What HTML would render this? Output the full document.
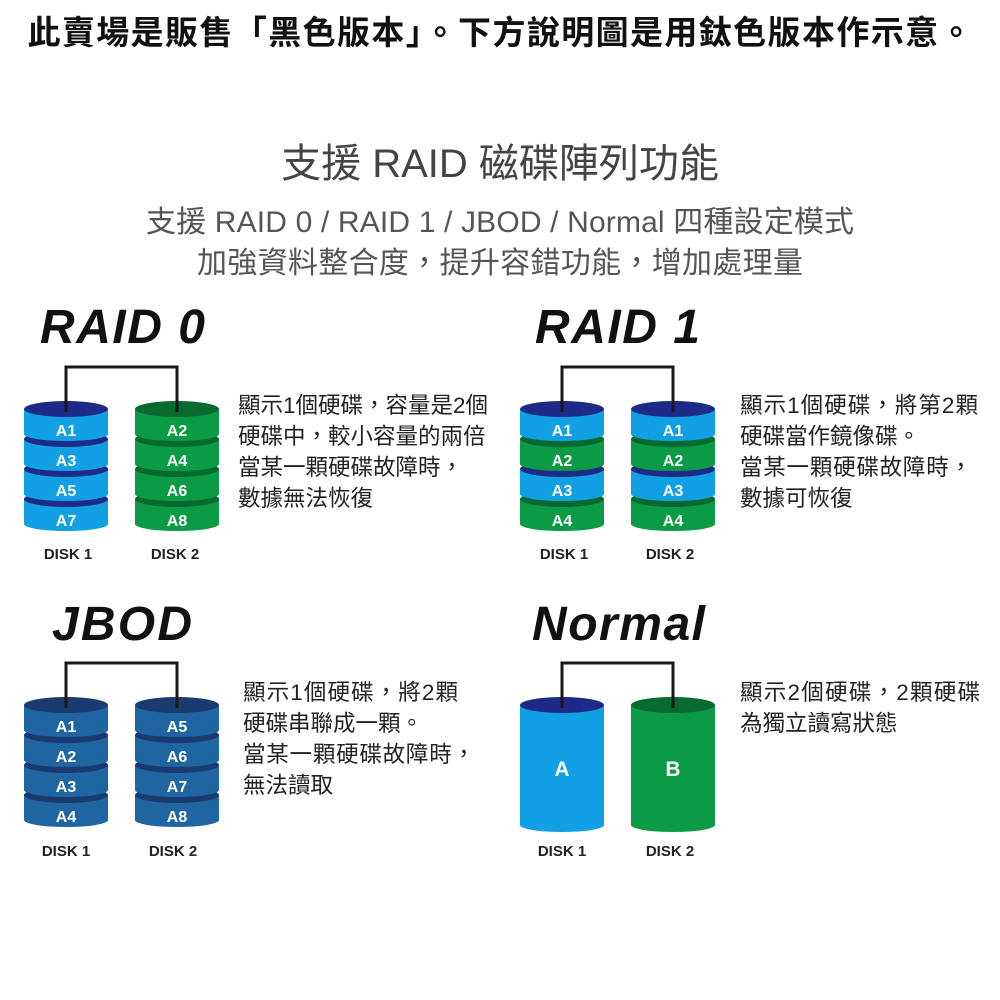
<!DOCTYPE html>
<html><head><meta charset="utf-8"><style>
body{margin:0;background:#fff}
svg{display:block}
.cj{font-family:"Liberation Sans","Noto Sans CJK TC",sans-serif}
</style></head><body>
<svg width="1000" height="1000" viewBox="0 0 1000 1000" xmlns="http://www.w3.org/2000/svg" class="cj">
<defs>
<g id="sb"><rect x="-42" y="0" width="84" height="25" fill="#12a0e4"/><ellipse cx="0" cy="25" rx="42" ry="7" fill="#12a0e4"/><ellipse cx="0" cy="0" rx="42" ry="8" fill="#1d2a88"/></g>
<g id="sg"><rect x="-42" y="0" width="84" height="25" fill="#0b9a45"/><ellipse cx="0" cy="25" rx="42" ry="7" fill="#0b9a45"/><ellipse cx="0" cy="0" rx="42" ry="8" fill="#086a2e"/></g>
<g id="sj"><rect x="-42" y="0" width="84" height="25" fill="#1f65a1"/><ellipse cx="0" cy="25" rx="42" ry="7" fill="#1f65a1"/><ellipse cx="0" cy="0" rx="42" ry="8" fill="#1a3a70"/></g>
</defs>

<text x="500" y="44" text-anchor="middle" font-size="33" font-weight="bold" fill="#111" textLength="945">此賣場是販售「黑色版本」。下方說明圖是用鈦色版本作示意。</text>
<text x="500" y="177" text-anchor="middle" font-size="40" fill="#444">支援 RAID 磁碟陣列功能</text>
<text x="500" y="232" text-anchor="middle" font-size="30" fill="#555" textLength="708">支援 RAID 0 / RAID 1 / JBOD / Normal 四種設定模式</text>
<text x="500" y="273" text-anchor="middle" font-size="30" fill="#555" textLength="606">加強資料整合度，提升容錯功能，增加處理量</text>

<g font-size="48" font-weight="bold" font-style="italic" fill="#111">
<text x="40" y="343" textLength="165">RAID 0</text>
<text x="535" y="343" textLength="165">RAID 1</text>
<text x="52" y="640" textLength="140">JBOD</text>
<text x="532" y="640" textLength="173">Normal</text>
</g>

<g fill="none" stroke="#1a1a1a" stroke-width="3">
<path d="M66 408V367H177V408"/>
<path d="M562 408V367H673V408"/>
<path d="M66 704V663H177V704"/>
<path d="M562 704V663H673V704"/>
</g>

<!-- RAID0 (bottom-up) -->
<use href="#sb" x="66" y="499"/><use href="#sb" x="66" y="469"/><use href="#sb" x="66" y="439"/><use href="#sb" x="66" y="409"/>
<use href="#sg" x="177" y="499"/><use href="#sg" x="177" y="469"/><use href="#sg" x="177" y="439"/><use href="#sg" x="177" y="409"/>
<!-- RAID1 -->
<use href="#sg" x="562" y="499"/><use href="#sb" x="562" y="469"/><use href="#sg" x="562" y="439"/><use href="#sb" x="562" y="409"/>
<use href="#sg" x="673" y="499"/><use href="#sb" x="673" y="469"/><use href="#sg" x="673" y="439"/><use href="#sb" x="673" y="409"/>
<!-- JBOD -->
<use href="#sj" x="66" y="795"/><use href="#sj" x="66" y="765"/><use href="#sj" x="66" y="735"/><use href="#sj" x="66" y="705"/>
<use href="#sj" x="177" y="795"/><use href="#sj" x="177" y="765"/><use href="#sj" x="177" y="735"/><use href="#sj" x="177" y="705"/>
<!-- Normal -->
<rect x="520" y="705" width="84" height="120" fill="#12a0e4"/><ellipse cx="562" cy="825" rx="42" ry="7" fill="#12a0e4"/><ellipse cx="562" cy="705" rx="42" ry="8" fill="#1d2a88"/>
<rect x="631" y="705" width="84" height="120" fill="#0b9a45"/><ellipse cx="673" cy="825" rx="42" ry="7" fill="#0b9a45"/><ellipse cx="673" cy="705" rx="42" ry="8" fill="#086a2e"/>
<g fill="none" stroke="#1a1a1a" stroke-width="3">
<path d="M66 412V400"/><path d="M177 412V400"/><path d="M562 412V400"/><path d="M673 412V400"/>
<path d="M66 708V696"/><path d="M177 708V696"/><path d="M562 708V696"/><path d="M673 708V696"/></g>

<g fill="#fff" font-weight="bold" font-size="16" text-anchor="middle">
<text x="66" y="436">A1</text><text x="66" y="466">A3</text><text x="66" y="496">A5</text><text x="66" y="526">A7</text>
<text x="177" y="436">A2</text><text x="177" y="466">A4</text><text x="177" y="496">A6</text><text x="177" y="526">A8</text>
<text x="562" y="436">A1</text><text x="562" y="466">A2</text><text x="562" y="496">A3</text><text x="562" y="526">A4</text>
<text x="673" y="436">A1</text><text x="673" y="466">A2</text><text x="673" y="496">A3</text><text x="673" y="526">A4</text>
<text x="66" y="732">A1</text><text x="66" y="762">A2</text><text x="66" y="792">A3</text><text x="66" y="822">A4</text>
<text x="177" y="732">A5</text><text x="177" y="762">A6</text><text x="177" y="792">A7</text><text x="177" y="822">A8</text>
<text x="562" y="776" font-size="21">A</text><text x="673" y="776" font-size="21">B</text>
</g>

<g fill="#222" font-weight="bold" font-size="15" text-anchor="middle">
<text x="68" y="559">DISK 1</text><text x="175" y="559">DISK 2</text>
<text x="564" y="559">DISK 1</text><text x="670" y="559">DISK 2</text>
<text x="66" y="856">DISK 1</text><text x="173" y="856">DISK 2</text>
<text x="562" y="856">DISK 1</text><text x="670" y="856">DISK 2</text>
</g>

<g fill="#222" font-size="22.5">
<text x="238" y="413">顯示1個硬碟，容量是2個</text>
<text x="238" y="444">硬碟中，較小容量的兩倍</text>
<text x="238" y="475">當某一顆硬碟故障時，</text>
<text x="238" y="506">數據無法恢復</text>
<text x="740" y="413" textLength="238">顯示1個硬碟，將第2顆</text>
<text x="740" y="444">硬碟當作鏡像碟。</text>
<text x="740" y="475" textLength="232">當某一顆硬碟故障時，</text>
<text x="740" y="506">數據可恢復</text>
<text x="243" y="700" textLength="215">顯示1個硬碟，將2顆</text>
<text x="243" y="731">硬碟串聯成一顆。</text>
<text x="243" y="762" textLength="232">當某一顆硬碟故障時，</text>
<text x="243" y="793">無法讀取</text>
<text x="740" y="700" textLength="240">顯示2個硬碟，2顆硬碟</text>
<text x="740" y="731">為獨立讀寫狀態</text>
</g>
</svg>
</body></html>
